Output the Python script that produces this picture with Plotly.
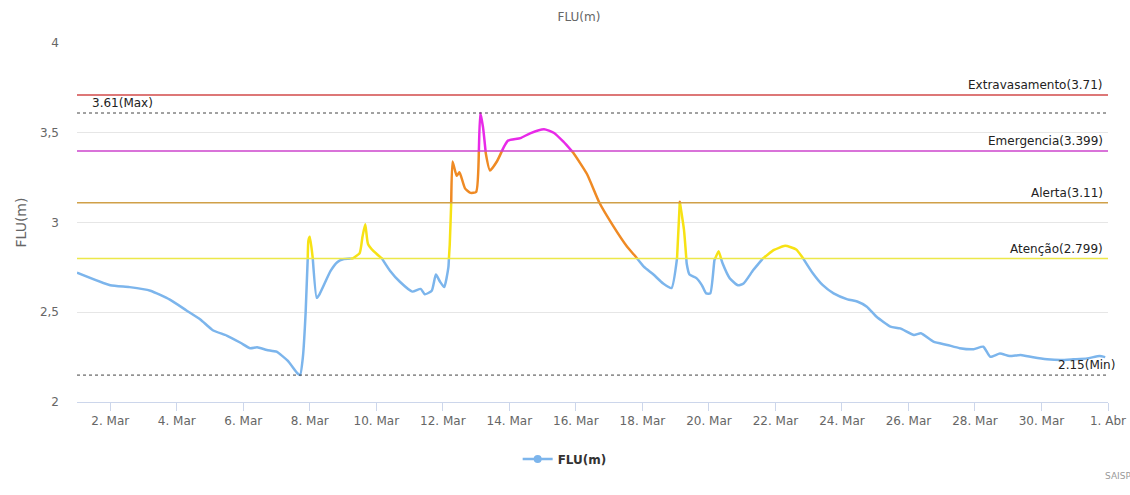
import plotly.graph_objects as go
import pandas as pd

# hourly readings (FLU level in metres)
times = [
    "2019-03-01 00:00", "2019-03-02 00:00", "2019-03-02 14:00", "2019-03-03 05:00", "2019-03-03 19:00",
    "2019-03-04 07:00", "2019-03-04 17:00", "2019-03-05 02:00", "2019-03-05 12:00", "2019-03-05 22:00",
    "2019-03-06 05:00", "2019-03-06 10:00", "2019-03-06 17:00", "2019-03-07 00:00", "2019-03-07 08:00",
    "2019-03-07 15:00", "2019-03-07 17:00", "2019-03-07 19:00", "2019-03-07 21:00", "2019-03-07 23:00",
    "2019-03-08 00:00", "2019-03-08 02:00", "2019-03-08 05:00", "2019-03-08 07:00", "2019-03-08 15:00",
    "2019-03-08 20:00", "2019-03-09 00:00", "2019-03-09 07:00", "2019-03-09 12:00", "2019-03-09 14:00",
    "2019-03-09 16:00", "2019-03-09 18:00", "2019-03-09 22:00", "2019-03-10 04:00", "2019-03-10 10:00",
    "2019-03-10 17:00", "2019-03-11 02:00", "2019-03-11 08:00", "2019-03-11 11:00", "2019-03-11 16:00",
    "2019-03-11 19:00", "2019-03-11 22:00", "2019-03-12 01:00", "2019-03-12 04:00", "2019-03-12 05:00",
    "2019-03-12 06:00", "2019-03-12 07:00", "2019-03-12 10:00", "2019-03-12 12:00", "2019-03-12 16:00",
    "2019-03-12 20:00", "2019-03-13 00:00", "2019-03-13 02:00", "2019-03-13 03:00", "2019-03-13 05:00",
    "2019-03-13 07:00", "2019-03-13 10:00", "2019-03-13 15:00", "2019-03-13 20:00", "2019-03-13 23:00",
    "2019-03-14 08:00", "2019-03-14 15:00", "2019-03-15 01:00", "2019-03-15 08:00", "2019-03-15 15:00",
    "2019-03-15 22:00", "2019-03-16 08:00", "2019-03-16 17:00", "2019-03-17 03:00", "2019-03-17 13:00",
    "2019-03-17 18:00", "2019-03-18 01:00", "2019-03-18 08:00", "2019-03-18 15:00", "2019-03-18 21:00",
    "2019-03-19 01:00", "2019-03-19 03:00", "2019-03-19 06:00", "2019-03-19 08:00", "2019-03-19 10:00",
    "2019-03-19 15:00", "2019-03-19 19:00", "2019-03-19 22:00", "2019-03-20 01:00", "2019-03-20 04:00",
    "2019-03-20 07:00", "2019-03-20 10:00", "2019-03-20 15:00", "2019-03-20 21:00", "2019-03-21 01:00",
    "2019-03-21 08:00", "2019-03-21 15:00", "2019-03-21 23:00", "2019-03-22 07:00", "2019-03-22 15:00",
    "2019-03-22 20:00", "2019-03-23 03:00", "2019-03-23 10:00", "2019-03-23 18:00", "2019-03-24 04:00",
    "2019-03-24 11:00", "2019-03-24 18:00", "2019-03-25 01:00", "2019-03-25 11:00", "2019-03-25 18:00",
    "2019-03-26 04:00", "2019-03-26 09:00", "2019-03-26 18:00", "2019-03-27 04:00", "2019-03-27 13:00",
    "2019-03-27 23:00", "2019-03-28 06:00", "2019-03-28 11:00", "2019-03-28 18:00", "2019-03-29 01:00",
    "2019-03-29 09:00", "2019-03-29 18:00", "2019-03-30 04:00", "2019-03-30 14:00", "2019-03-30 23:00",
    "2019-03-31 09:00", "2019-03-31 18:00", "2019-03-31 22:00",
]
levels = [
    2.72, 2.65, 2.64, 2.62, 2.57,
    2.51, 2.46, 2.40, 2.37, 2.33,
    2.30, 2.305, 2.29, 2.28, 2.23,
    2.16, 2.15, 2.25, 2.50, 2.90,
    2.92, 2.81, 2.58, 2.60, 2.73,
    2.78, 2.795, 2.80, 2.83, 2.92,
    2.99, 2.88, 2.84, 2.80, 2.73,
    2.67, 2.615, 2.63, 2.60, 2.62,
    2.71, 2.67, 2.64, 2.75, 2.88,
    3.10, 3.34, 3.26, 3.28, 3.19,
    3.165, 3.17, 3.40, 3.61, 3.53,
    3.385, 3.29, 3.34, 3.42, 3.456,
    3.47, 3.497, 3.52, 3.50, 3.45,
    3.39, 3.27, 3.11, 2.98, 2.865,
    2.82, 2.754, 2.71, 2.66, 2.635,
    2.80, 3.115, 2.96, 2.77, 2.71,
    2.69, 2.65, 2.605, 2.605, 2.79,
    2.84, 2.77, 2.69, 2.65, 2.66,
    2.735, 2.80, 2.847, 2.87, 2.85,
    2.80, 2.717, 2.652, 2.605, 2.572,
    2.56, 2.531, 2.475, 2.42, 2.41,
    2.373, 2.383, 2.336, 2.318, 2.30,
    2.294, 2.308, 2.252, 2.27, 2.256,
    2.262, 2.249, 2.238, 2.234, 2.238,
    2.243, 2.256, 2.25,
]

# alarm levels
limit_names = ["Extravasamento", "Emergencia", "Alerta", "Atenção"]
limit_values = [3.71, 3.399, 3.11, 2.799]
limit_colors = ["#d24a4a", "#cc44cc", "#d0a048", "#ece84a"]

max_value = 3.61
min_value = 2.15

tick_days = ["2019-03-%02d" % d for d in range(2, 31, 2)] + ["2019-04-01"]
tick_labels = ["%d. Mar" % d for d in range(2, 31, 2)] + ["1. Abr"]

# colour zones of the series, as the original chart does
zone_edges = [2.799, 3.11, 3.399]
zone_colors = ["#7cb5ec", "#f7e214", "#ef8a24", "#e82ae8"]

ts = pd.to_datetime(times).astype("int64").to_numpy() / 1e9


def zone_of(v):
    z = 0
    for e in zone_edges:
        if v > e:
            z += 1
    return z


# walk the line, starting a new run wherever it crosses a zone edge
runs = []
cur_zone = zone_of(levels[0])
cur = [(ts[0], levels[0])]
for i in range(len(levels) - 1):
    t0, t1, v0, v1 = ts[i], ts[i + 1], levels[i], levels[i + 1]
    crossing = sorted([e for e in zone_edges if min(v0, v1) < e < max(v0, v1)], reverse=v1 < v0)
    for e in crossing:
        f = (e - v0) / (v1 - v0)
        p = (t0 + f * (t1 - t0), e)
        cur.append(p)
        runs.append((cur_zone, cur))
        cur_zone = zone_of(e + (0.001 if v1 > v0 else -0.001))
        cur = [p]
    cur.append((t1, v1))
runs.append((cur_zone, cur))

fig = go.Figure()

for z, pts in runs:
    fig.add_trace(go.Scatter(x=pd.to_datetime([p[0] for p in pts], unit="s"), y=[p[1] for p in pts],
                             mode="lines", line=dict(color=zone_colors[z], width=2.5, shape="spline", smoothing=0.5),
                             showlegend=False, hoverinfo="skip"))

fig.add_trace(go.Scatter(x=[None], y=[None], mode="lines+markers", name="FLU(m)",
                         line=dict(color="#7cb5ec", width=2.5), marker=dict(color="#7cb5ec", size=8)))

for name, val, color in zip(limit_names, limit_values, limit_colors):
    fig.add_shape(type="line", xref="paper", x0=0, x1=1, y0=val, y1=val,
                  line=dict(color=color, width=1.5))
    fig.add_annotation(xref="paper", x=0.997, y=val, text="%s(%s)" % (name, val), showarrow=False,
                       xanchor="right", yanchor="bottom", yshift=1,
                       font=dict(family="DejaVu Sans", size=12, color="#222"))

for val, label, xpos, anchor in [(max_value, "3.61(Max)", 0.013, "left"), (min_value, "2.15(Min)", 1.009, "right")]:
    fig.add_shape(type="line", xref="paper", x0=0, x1=1, y0=val, y1=val,
                  line=dict(color="#444", width=1, dash="dot"))
    fig.add_annotation(xref="paper", x=xpos, y=val, text=label, showarrow=False,
                       xanchor=anchor, yanchor="bottom", yshift=1,
                       font=dict(family="DejaVu Sans", size=12, color="#222"))

fig.add_annotation(xref="paper", yref="paper", x=0.995, y=-0.226, text="SAISP", showarrow=False,
                   xanchor="left", font=dict(family="DejaVu Sans", size=9, color="#999"))

fig.update_layout(
    width=1130, height=495,
    margin=dict(l=77, r=22, t=43, b=93),
    paper_bgcolor="white", plot_bgcolor="white",
    separators=", ",
    font=dict(family="DejaVu Sans", size=12, color="#666"),
    title=dict(text="FLU(m)", x=0.5124, xanchor="center", y=0.9657, yanchor="middle",
               font=dict(family="DejaVu Sans", size=12, color="#666")),
    legend=dict(orientation="h", x=0.473, xanchor="center", y=-0.159, yanchor="middle", itemwidth=30,
                font=dict(family="DejaVu Sans", size=12, color="#333", weight="bold")),
    xaxis=dict(range=["2019-03-01", "2019-04-01"], tickvals=tick_days, ticktext=tick_labels,
               showgrid=False, showline=True, linecolor="#ccd6eb", ticks="outside",
               ticklen=8, tickcolor="#ccd6eb", zeroline=False, automargin=False),
    yaxis=dict(range=[2, 4], dtick=0.5, showgrid=True, gridcolor="#e6e6e6", zeroline=False,
               title=dict(text="FLU(m)", standoff=10), ticks="", ticklabelstandoff=17,
               automargin=False),
)

# drop the page's default body margin so the figure fills the window
fig.write_html("out.html", config={"displayModeBar": False},
               post_script="document.body.style.margin = '0px';")
